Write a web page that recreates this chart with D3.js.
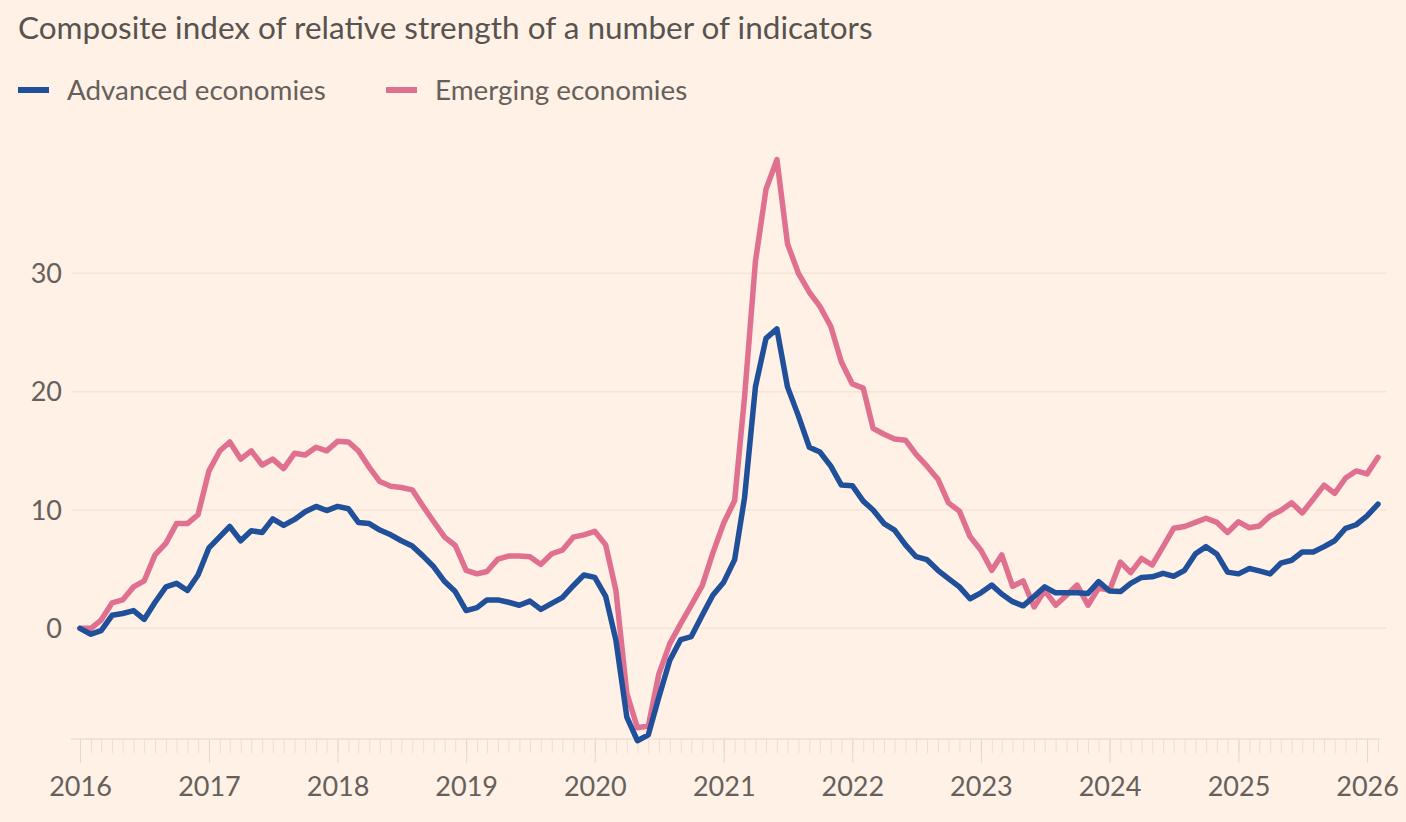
<!DOCTYPE html>
<html>
<head>
<meta charset="utf-8">
<script src="https://cdn.jsdelivr.net/npm/d3@7"></script>
<style>
  body { margin: 0; background: #fff1e5; }
  svg { display: block; font-family: Lato, "Noto Sans", sans-serif; }
</style>
</head>
<body>
<svg id="chart" width="1406" height="822"></svg>
<script>
// Monthly readings, Jan 2016 onwards
const firstMonth = new Date(2016, 0, 1);

const advanced = [
    0, -0.5, -0.2, 1.1, 1.25, 1.5, 0.75, 2.2, 3.5, 3.8, 3.2, 4.5,
    6.8, 7.75, 8.6, 7.4, 8.25, 8.1, 9.25, 8.7, 9.2, 9.85, 10.3, 9.95,
    10.3, 10.1, 8.95, 8.85, 8.3, 7.9, 7.4, 6.95, 6.1, 5.2, 3.95, 3.1,
    1.5, 1.75, 2.4, 2.4, 2.2, 1.95, 2.3, 1.6, 2.1, 2.6, 3.6, 4.5,
    4.3, 2.7, -1.0, -7.5, -9.5, -9.0, -5.8, -2.7, -0.95, -0.7, 1.1, 2.8,
    3.9, 5.8, 11.0, 20.4, 24.5, 25.3, 20.4, 17.95, 15.3, 14.9, 13.7, 12.1,
    12.05, 10.75, 10.0, 8.85, 8.3, 7.05, 6.05, 5.8, 4.9, 4.2, 3.5, 2.5,
    3.0, 3.65, 2.9, 2.25, 1.9, 2.7, 3.5, 3.0, 3.0, 3.0, 2.95, 3.95,
    3.15, 3.1, 3.8, 4.3, 4.35, 4.65, 4.4, 4.9, 6.3, 6.9, 6.25, 4.75,
    4.6, 5.05, 4.85, 4.6, 5.5, 5.75, 6.45, 6.45, 6.9, 7.4, 8.45, 8.75,
    9.5, 10.5
];

const emerging = [
    0, 0, 0.7, 2.15, 2.4, 3.5, 4.0, 6.2, 7.2, 8.85, 8.85, 9.6,
    13.3, 15.0, 15.75, 14.3, 15.0, 13.8, 14.3, 13.5, 14.8, 14.65, 15.3, 15.0,
    15.8, 15.75, 15.0, 13.6, 12.4, 12.0, 11.9, 11.7, 10.3, 9.0, 7.7, 7.0,
    4.9, 4.6, 4.8, 5.85, 6.1, 6.1, 6.05, 5.4, 6.3, 6.6, 7.7, 7.9,
    8.2, 7.05, 3.2, -5.5, -8.4, -8.25, -3.85, -1.3, 0.4, 1.95, 3.6, 6.35,
    8.9, 10.8, 19.5, 31.0, 37.1, 39.6, 32.5, 30.0, 28.4, 27.2, 25.5, 22.5,
    20.65, 20.3, 16.9, 16.4, 16.0, 15.9, 14.7, 13.7, 12.6, 10.6, 9.9, 7.75,
    6.6, 4.9, 6.2, 3.55, 4.0, 1.8, 3.2, 1.95, 2.8, 3.65, 1.95, 3.4,
    3.2, 5.6, 4.7, 5.9, 5.35, 6.9, 8.45, 8.6, 8.95, 9.3, 8.95, 8.1,
    9.0, 8.5, 8.65, 9.5, 9.95, 10.6, 9.75, 10.9, 12.1, 11.4, 12.7, 13.3,
    13.05, 14.45
];

const seriesNames = ['Advanced economies', 'Emerging economies'];
const seriesColors = ['#21509b', '#e0708f'];
const yTicks = [0, 10, 20, 30];
const yearTicks = d3.range(2016, 2027);

const svg = d3.select('#chart');
const textColor = '#66605c';

const months = advanced.map((_, i) => d3.timeMonth.offset(firstMonth, i));

const x = d3.scaleTime()
    .domain([months[0], months[months.length - 1]])
    .range([80, 1378]);

const y = d3.scaleLinear()
    .domain([0, 30])
    .range([628.3, 273.3]);

// title
svg.append('text')
    .attr('x', 18)
    .attr('y', 39)
    .attr('fill', '#59534f')
    .style('font-size', '31.5px')
    .text('Composite index of relative strength of a number of indicators');

// legend
const legend = svg.append('g')
    .selectAll('g')
    .data(seriesNames)
    .enter().append('g')
    .attr('transform', (d, i) => `translate(${i === 0 ? 18 : 386}, 90)`);

legend.append('line')
    .attr('x1', 0)
    .attr('x2', 31)
    .attr('stroke', (d, i) => seriesColors[i])
    .attr('stroke-width', 6);

legend.append('text')
    .attr('x', 49)
    .attr('dy', '0.35em')
    .attr('fill', textColor)
    .style('font-size', '27.8px')
    .text(d => d);

// gridlines
svg.append('g')
    .selectAll('line')
    .data(yTicks)
    .enter().append('line')
    .attr('x1', 72)
    .attr('x2', 1386)
    .attr('y1', d => y(d))
    .attr('y2', d => y(d))
    .attr('stroke', '#f6e4d5')
    .attr('stroke-width', 1.5);

svg.append('g')
    .selectAll('text')
    .data(yTicks)
    .enter().append('text')
    .attr('x', 62)
    .attr('y', d => y(d))
    .attr('dy', '0.36em')
    .attr('text-anchor', 'end')
    .attr('fill', textColor)
    .style('font-size', '27px')
    .text(d => d);

// x axis: month ticks plus longer year ticks
const axisY = 739;

const monthAxis = svg.append('g')
    .attr('transform', `translate(0, ${axisY})`)
    .call(d3.axisBottom(x).ticks(d3.timeMonth.every(1)).tickSize(14).tickFormat(''));
monthAxis.select('.domain').remove();
monthAxis.selectAll('line').attr('stroke', '#ecdfd2');

const yearAxis = svg.append('g')
    .attr('transform', `translate(0, ${axisY})`)
    .call(d3.axisBottom(x)
        .tickValues(yearTicks.map(yr => new Date(yr, 0, 1)))
        .tickSize(24)
        .tickPadding(14)
        .tickFormat(d3.timeFormat('%Y')));
yearAxis.select('.domain').remove();
yearAxis.selectAll('line').attr('stroke', '#e5d7ca');
yearAxis.selectAll('text')
    .attr('fill', textColor)
    .style('font-size', '27px')
    .style('font-family', 'Lato, "Noto Sans", sans-serif');

svg.append('line')
    .attr('x1', 71)
    .attr('x2', 1380)
    .attr('y1', axisY)
    .attr('y2', axisY)
    .attr('stroke', '#ecdfd2')
    .attr('stroke-width', 1.5);

// lines
const line = d3.line()
    .x((d, i) => x(months[i]))
    .y(d => y(d));

svg.append('g')
    .selectAll('path')
    .data([emerging, advanced])
    .enter().append('path')
    .attr('d', line)
    .attr('fill', 'none')
    .attr('stroke', (d, i) => i === 0 ? seriesColors[1] : seriesColors[0])
    .attr('stroke-width', 5.5)
    .attr('stroke-linejoin', 'round')
    .attr('stroke-linecap', 'round');
</script>
</body>
</html>
